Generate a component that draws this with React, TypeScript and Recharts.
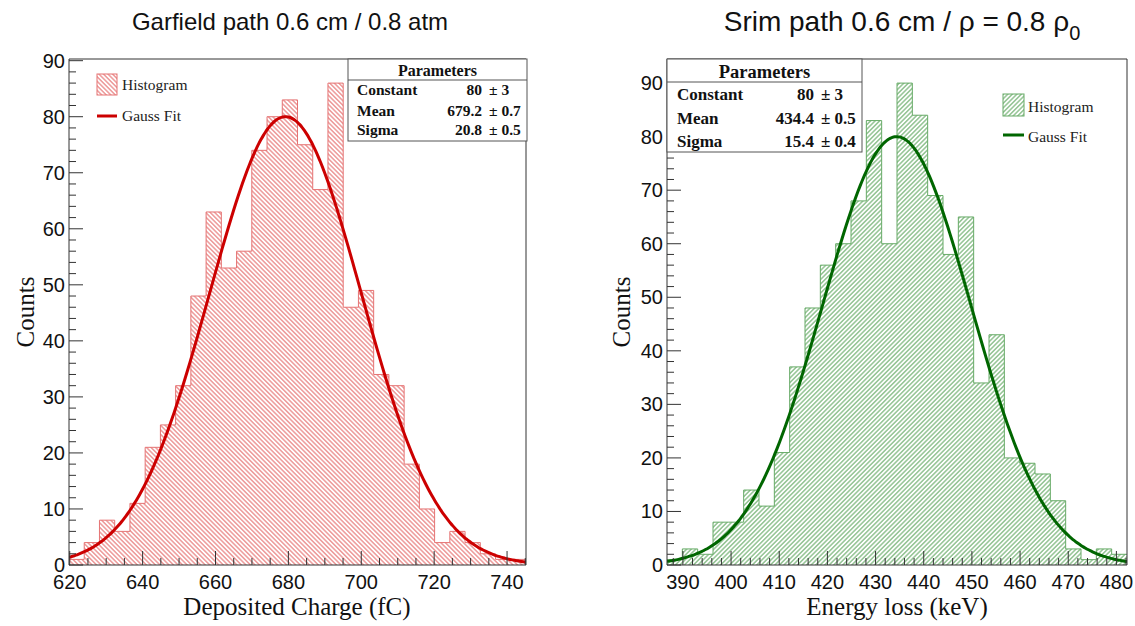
import { Area, ComposedChart, Line, ReferenceLine, XAxis, YAxis } from "recharts";

// bin contents (30 bins each)
const garfieldCounts = [1, 4, 8, 6, 11, 21, 25, 32, 48, 63, 53, 56, 74, 80, 83, 75, 67, 86, 46, 49, 34, 32, 18, 10, 4, 6, 4, 2, 1, 1];
const srimCounts = [1, 3, 2, 8, 8, 14, 11, 21, 37, 48, 56, 60, 68, 83, 60, 90, 84, 69, 58, 65, 34, 43, 20, 19, 17, 12, 3, 1, 3, 2];

const garfieldRange: [number, number] = [619.8, 745.2];
const srimRange: [number, number] = [386.7, 482.2];

const garfieldFit = { constant: 80, mean: 679.2, sigma: 20.8 };
const srimFit = { constant: 80, mean: 434.4, sigma: 15.4 };

const garfieldParams = [
  ["Constant", "80", "± 3"],
  ["Mean", "679.2", "± 0.7"],
  ["Sigma", "20.8", "± 0.5"],
];
const srimParams = [
  ["Constant", "80", "± 3"],
  ["Mean", "434.4", "± 0.5"],
  ["Sigma", "15.4", "± 0.4"],
];

const garfieldXLabels = [620, 640, 660, 680, 700, 720, 740];
const srimXLabels = [390, 400, 410, 420, 430, 440, 450, 460, 470, 480];
const countLabels = [0, 10, 20, 30, 40, 50, 60, 70, 80, 90];

const SANS = "'Liberation Sans', Arial, Helvetica, sans-serif";
const SERIF = "'Liberation Serif', 'Times New Roman', serif";
const AXIS = "#333";

function tickRange(from: number, to: number, step: number) {
  const out: number[] = [];
  for (let v = from; v <= to + 1e-9; v += step) out.push(Math.round(v * 1000) / 1000);
  return out;
}

function histPoints(counts: number[], [lo, hi]: [number, number]) {
  const w = (hi - lo) / counts.length;
  const pts = counts.map((c, i) => ({ x: lo + i * w, y: c }));
  pts.push({ x: hi, y: counts[counts.length - 1] });
  return pts;
}

function gaussPoints(f: { constant: number; mean: number; sigma: number }, [lo, hi]: [number, number]) {
  const n = 200;
  return Array.from({ length: n + 1 }, (_, i) => {
    const x = lo + ((hi - lo) * i) / n;
    return { x, y: f.constant * Math.exp(-0.5 * ((x - f.mean) / f.sigma) ** 2) };
  });
}

const xTick = (majors: number[]) => (props: any) => {
  const { x, y, payload } = props;
  const major = majors.includes(payload.value);
  return (
    <g>
      <line x1={x} x2={x} y1={y} y2={y - (major ? 14 : 7)} stroke={AXIS} strokeWidth={1} />
      {major && (
        <text x={x} y={y + 24} textAnchor="middle" fontSize={20} fontFamily={SANS} fill="#111">
          {payload.value}
        </text>
      )}
    </g>
  );
};

const yTick = (majors: number[]) => (props: any) => {
  const { x, y, payload } = props;
  const major = majors.includes(payload.value);
  return (
    <g>
      <line x1={x} x2={x + (major ? 14 : 7)} y1={y} y2={y} stroke={AXIS} strokeWidth={1} />
      {major && (
        <text x={x - 4} y={y + 7} textAnchor="end" fontSize={20} fontFamily={SANS} fill="#111">
          {payload.value}
        </text>
      )}
    </g>
  );
};

type PanelProps = {
  left: number;
  width: number;
  margin: { top: number; right: number; bottom: number; left: number };
  counts: number[];
  range: [number, number];
  yMax: number;
  fit: { constant: number; mean: number; sigma: number };
  xTicks: number[];
  xMajors: number[];
  yTicks: number[];
  hatchId: string;
  hatchAngle: number;
  hatchColor: string;
  histColor: string;
  fitColor: string;
};

function Panel(p: PanelProps) {
  return (
    <div style={{ position: "absolute", left: p.left, top: 0 }}>
      <ComposedChart width={p.width} height={626} margin={p.margin}>
        <defs>
          <pattern
            id={p.hatchId}
            patternUnits="userSpaceOnUse"
            width={3.2}
            height={3.2}
            patternTransform={`rotate(${p.hatchAngle})`}
          >
            <line x1={1.6} y1={0} x2={1.6} y2={3.2} stroke={p.hatchColor} strokeWidth={0.9} />
          </pattern>
        </defs>
        <XAxis
          type="number"
          dataKey="x"
          domain={p.range}
          allowDataOverflow
          ticks={p.xTicks}
          interval={0}
          tickSize={0}
          tickMargin={0}
          tickLine={false}
          tick={xTick(p.xMajors)}
          axisLine={{ stroke: AXIS }}
          height={30}
        />
        <YAxis
          type="number"
          domain={[0, p.yMax]}
          allowDataOverflow
          ticks={p.yTicks}
          interval={0}
          tickSize={0}
          tickMargin={0}
          tickLine={false}
          tick={yTick(countLabels)}
          axisLine={{ stroke: AXIS }}
          width={40}
        />
        <Area
          data={histPoints(p.counts, p.range)}
          dataKey="y"
          type="stepAfter"
          stroke={p.histColor}
          strokeWidth={1}
          fill={`url(#${p.hatchId})`}
          fillOpacity={1}
          dot={false}
          activeDot={false}
          isAnimationActive={false}
        />
        <Line
          data={gaussPoints(p.fit, p.range)}
          dataKey="y"
          type="monotone"
          stroke={p.fitColor}
          strokeWidth={3}
          dot={false}
          activeDot={false}
          isAnimationActive={false}
        />
        <ReferenceLine y={p.yMax} stroke={AXIS} strokeWidth={1} />
        <ReferenceLine x={p.range[1]} stroke={AXIS} strokeWidth={1} />
      </ComposedChart>
    </div>
  );
}

function StatsBox({ x, y, w, h, sep, head, rows, labelX, valX, size, headSize }: any) {
  return (
    <g fontFamily={SERIF} fontWeight="bold" fill="#111">
      <rect x={x} y={y} width={w} height={h} fill="#fff" stroke="#555" strokeWidth={1} />
      <line x1={x} x2={x + w} y1={sep} y2={sep} stroke="#555" strokeWidth={1} />
      <text x={x + w / 2} y={head} textAnchor="middle" fontSize={headSize}>Parameters</text>
      {rows.map((r: string[]) => (
        <g key={r[0]} fontSize={size}>
          <text x={labelX} y={r[3] as any}>{r[0]}</text>
          <text x={valX} y={r[3] as any} textAnchor="end">{r[1]}</text>
          <text x={valX + 7} y={r[3] as any}>{r[2]}</text>
        </g>
      ))}
    </g>
  );
}

export default function App() {
  const leftRows = garfieldParams.map((r, i) => [...r, String([95, 116, 135][i])]);
  const rightRows = srimParams.map((r, i) => [...r, String([100, 124, 147][i])]);
  return (
    <div style={{ position: "absolute", left: 0, top: 0, width: 1135, height: 626, background: "#fff" }}>
      <Panel
        left={0}
        width={560}
        margin={{ top: 59, right: 34, bottom: 31, left: 29 }}
        counts={garfieldCounts}
        range={garfieldRange}
        yMax={90.3}
        fit={garfieldFit}
        xTicks={tickRange(620, 745, 5)}
        xMajors={garfieldXLabels}
        yTicks={tickRange(0, 90, 2)}
        hatchId="hatchRed"
        hatchAngle={-45}
        hatchColor="#e05555"
        histColor="#e57373"
        fitColor="#cc0000"
      />
      <Panel
        left={600}
        width={535}
        margin={{ top: 59, right: 8, bottom: 31, left: 27 }}
        counts={srimCounts}
        range={srimRange}
        yMax={94.5}
        fit={srimFit}
        xTicks={tickRange(388, 482, 2)}
        xMajors={srimXLabels}
        yTicks={tickRange(0, 94, 2)}
        hatchId="hatchGreen"
        hatchAngle={45}
        hatchColor="#4a9a4a"
        histColor="#66aa66"
        fitColor="#006600"
      />
      <svg
        width={1135}
        height={626}
        style={{ position: "absolute", left: 0, top: 0, pointerEvents: "none" }}
      >
        {/* titles */}
        <text x={290} y={30} textAnchor="middle" fontSize={24} fontFamily={SANS} fill="#111">
          Garfield path 0.6 cm / 0.8 atm
        </text>
        <text x={902} y={31} textAnchor="middle" fontSize={28} fontFamily={SANS} fill="#111">
          Srim path 0.6 cm / ρ = 0.8 ρ<tspan dy={9} fontSize={20}>0</tspan>
        </text>

        {/* axis titles */}
        <text x={297} y={615} textAnchor="middle" fontSize={25} fontFamily={SERIF} fill="#111">
          Deposited Charge (fC)
        </text>
        <text x={897} y={615} textAnchor="middle" fontSize={25} fontFamily={SERIF} fill="#111">
          Energy loss (keV)
        </text>
        <text x={34} y={312} transform="rotate(-90 34 312)" textAnchor="middle" fontSize={25} fontFamily={SERIF} fill="#111">
          Counts
        </text>
        <text x={630} y={312} transform="rotate(-90 630 312)" textAnchor="middle" fontSize={25} fontFamily={SERIF} fill="#111">
          Counts
        </text>

        {/* legends */}
        <g fontFamily={SERIF} fontSize={15.5} fill="#222">
          <rect x={97} y={74} width={20} height={21} fill="url(#hatchRed)" stroke="#e57373" />
          <text x={122} y={90}>Histogram</text>
          <line x1={97} x2={117} y1={116} y2={116} stroke="#cc0000" strokeWidth={3} />
          <text x={122} y={121}>Gauss Fit</text>

          <rect x={1003} y={94} width={21} height={22} fill="url(#hatchGreen)" stroke="#66aa66" />
          <text x={1028} y={112}>Histogram</text>
          <line x1={1003} x2={1024} y1={135} y2={135} stroke="#006600" strokeWidth={3} />
          <text x={1028} y={142}>Gauss Fit</text>
        </g>

        {/* fit parameter boxes */}
        <StatsBox x={348} y={59} w={179} h={82} sep={80} head={76} rows={leftRows} labelX={357} valX={482} size={15.5} headSize={16} />
        <StatsBox x={667} y={59} w={195} h={93} sep={82} head={78} rows={rightRows} labelX={677} valX={814} size={17} headSize={18.5} />
      </svg>
    </div>
  );
}
